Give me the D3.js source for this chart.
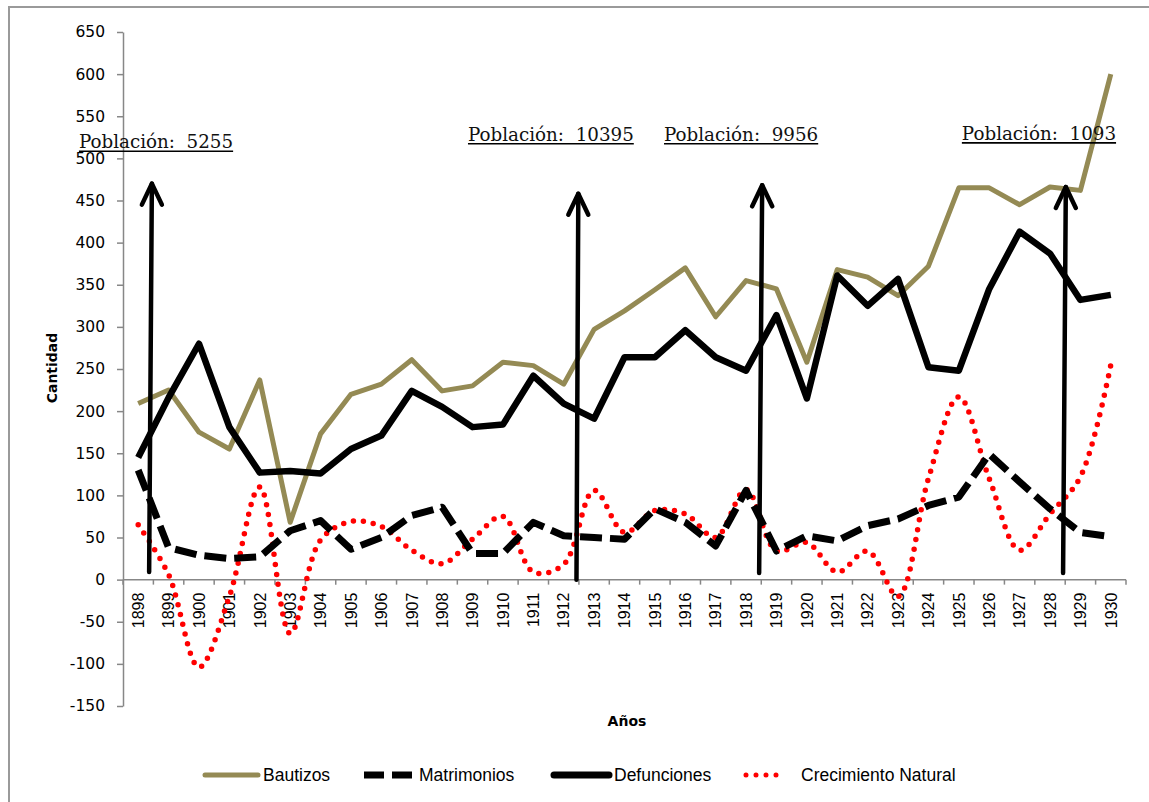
<!DOCTYPE html>
<html>
<head>
<meta charset="utf-8">
<script src="https://cdn.jsdelivr.net/npm/d3@7"></script>
<style>
	body { margin: 0; background: #fff; }
	svg { display: block; }
	.pop { white-space: pre; }
</style>
</head>
<body>
<div id="chart"></div>
<script>
const years = d3.range(1898, 1931).map(String);

const bautizos = [209, 225, 175, 155, 237, 68, 173, 220, 232, 261, 224, 230, 258, 254, 232, 297, 319, 344, 370, 312, 355, 345,
	258, 368, 359, 337, 372, 465, 465, 445, 466, 462, 600];
const matrimonios = [130, 38, 29, 25, 27, 58, 70, 36, 50, 76, 86, 31, 31, 68, 52, 50, 48, 84, 68, 40, 106, 34,
	52, 46, 64, 72, 88, 98, 149, 116, 84, 56, 51];
const defunciones = [145, 216, 280, 181, 127, 129, 126, 155, 171, 224, 205, 181, 184, 242, 209, 191, 264, 264, 296, 264, 248, 314,
	215, 361, 325, 357, 252, 248, 345, 413, 387, 332, 338];
const crecimiento = [65, 6, -104, -20, 110, -64, 47, 69, 63, 35, 19, 48, 75, 9, 18, 106, 56, 82, 78, 50, 107, 34,
	44, 9, 34, -20, 120, 217, 120, 35, 78, 122, 255];

const yTicks = d3.range(-150, 651, 50);

const seriesNames = ["Bautizos", "Matrimonios", "Defunciones", "Crecimiento Natural"];

// arrows: [category offset, value] for foot and tip
const arrowFoot = [[0.36, 9], [14.42, 0], [20.43, 8], [30.43, 8]];
const arrowTip = [[0.45, 470], [14.48, 458], [20.53, 468], [30.52, 466]];
const popLabels = ["Población:  5255", "Población:  10395", "Población:  9956", "Población:  1093"];
const popAnchor = [[-1.95, 512], [10.85, 521], [17.3, 521], [27.1, 522]];

const W = 1149, H = 802;
const mLeft = 123, mRight = 1126, mTop = 32, mBottom = 706;

const svg = d3.select('#chart').append('svg')
	.attr('width', W)
	.attr('height', H);

svg.append('rect')
	.attr('x', 9).attr('y', 7)
	.attr('width', W + 10).attr('height', H + 10)
	.attr('fill', '#fff')
	.attr('stroke', '#9a9a9a')
	.attr('stroke-width', 2);

const x = d3.scaleBand()
	.domain(years)
	.range([mLeft, mRight]);

const xi = i => x(years[0]) + x.bandwidth() / 2 + i * x.step();

const y = d3.scaleLinear()
	.domain([-150, 650])
	.range([mBottom, mTop]);

const axisColor = '#878787';

// y axis
const ya = svg.append('g')
	.attr('transform', `translate(${mLeft},0)`)
	.call(d3.axisLeft(y)
		.tickValues(yTicks)
		.tickFormat(d => String(d))
		.tickSize(6).tickPadding(12).tickSizeOuter(0));

ya.select('.domain').attr('stroke', axisColor).attr('stroke-width', 1.5);
ya.selectAll('.tick line').attr('stroke', axisColor).attr('stroke-width', 1.5);
ya.selectAll('.tick text')
	.attr('font-family', 'DejaVu Sans')
	.attr('font-size', '15.5px')
	.attr('fill', '#000');

// x axis at zero
const xa = svg.append('g')
	.attr('transform', `translate(0,${y(0)})`);

xa.append('line')
	.attr('x1', mLeft).attr('x2', mRight)
	.attr('stroke', axisColor).attr('stroke-width', 1.5);

xa.selectAll('line.tk')
	.data(d3.range(years.length + 1))
	.enter().append('line')
	.attr('class', 'tk')
	.attr('x1', i => mLeft + i * x.step())
	.attr('x2', i => mLeft + i * x.step())
	.attr('y1', 0).attr('y2', 5)
	.attr('stroke', axisColor).attr('stroke-width', 1.5);

xa.selectAll('text')
	.data(years)
	.enter().append('text')
	.attr('transform', d => `translate(${x(d) + x.bandwidth() / 2},13) rotate(-90)`)
	.attr('text-anchor', 'end')
	.attr('dy', '0.36em')
	.attr('font-family', 'Liberation Sans')
	.attr('font-size', '16px')
	.text(d => d);

// axis titles
svg.append('text')
	.attr('transform', `translate(57,368) rotate(-90)`)
	.attr('text-anchor', 'middle')
	.attr('font-family', 'DejaVu Sans')
	.attr('font-weight', 'bold')
	.attr('font-size', '14px')
	.text('Cantidad');

svg.append('text')
	.attr('x', 627).attr('y', 726)
	.attr('text-anchor', 'middle')
	.attr('font-family', 'DejaVu Sans')
	.attr('font-weight', 'bold')
	.attr('font-size', '14px')
	.text('Años');

const styles = [
	{ stroke: '#948a54', width: 5, dash: null, cap: 'butt' },
	{ stroke: '#000', width: 7, dash: '22,8', cap: 'butt' },
	{ stroke: '#000', width: 6.5, dash: null, cap: 'butt' },
	{ stroke: '#ff0000', width: 5.5, dash: '0,10', cap: 'round' }
];

const series = [bautizos, matrimonios, defunciones, crecimiento];

const straight = d3.line()
	.x((d, i) => xi(i))
	.y(d => y(d));

const smooth = d3.line()
	.x((d, i) => xi(i))
	.y(d => y(d))
	.curve(d3.curveCatmullRom.alpha(0.5));

const plot = svg.append('g');

// draw order: dotted red first, then others on top
[3, 0, 2, 1].forEach(k => {
	plot.append('path')
		.datum(series[k])
		.attr('fill', 'none')
		.attr('stroke', styles[k].stroke)
		.attr('stroke-width', styles[k].width)
		.attr('stroke-dasharray', styles[k].dash)
		.attr('stroke-linecap', styles[k].cap)
		.attr('stroke-linejoin', 'round')
		.attr('d', k === 3 ? smooth : straight);
});

// arrows
const ag = svg.append('g')
	.attr('stroke', '#000')
	.attr('stroke-width', 4.5)
	.attr('stroke-linecap', 'round')
	.attr('stroke-linejoin', 'round')
	.attr('fill', 'none');

arrowTip.forEach((t, i) => {
	const f = arrowFoot[i];
	const tx = xi(t[0]), ty = y(t[1]);
	ag.append('line')
		.attr('x1', xi(f[0])).attr('y1', y(f[1]))
		.attr('x2', tx).attr('y2', ty);
	ag.append('path')
		.attr('d', `M${tx - 10},${ty + 21}L${tx},${ty}L${tx + 10},${ty + 21}`);
});

// population labels
popLabels.forEach((s, i) => {
	const px = xi(popAnchor[i][0]), py = y(popAnchor[i][1]);
	const t = svg.append('text')
		.attr('class', 'pop')
		.attr('x', px).attr('y', py)
		.attr('font-family', 'DejaVu Serif')
		.attr('font-size', '18.3px')
		.attr('fill', '#111')
		.text(s);
	const w = t.node().getComputedTextLength();
	svg.append('line')
		.attr('x1', px).attr('x2', px + w)
		.attr('y1', py + 3).attr('y2', py + 3)
		.attr('stroke', '#000')
		.attr('stroke-width', 1.6);
});

// legend
const lg = svg.append('g').attr('transform', 'translate(0,775)');
const legendAt = [205, 364, 554, 744];
const legendLen = [53, 50, 55, 42];
seriesNames.forEach((name, k) => {
	const st = styles[k];
	const lx = legendAt[k];
	lg.append('line')
		.attr('x1', k === 3 ? lx + 2 : lx).attr('x2', lx + legendLen[k])
		.attr('stroke', st.stroke)
		.attr('stroke-width', k === 3 ? 5 : (k === 0 ? 5 : 7))
		.attr('stroke-dasharray', k === 1 ? '20,8' : st.dash)
		.attr('stroke-linecap', k === 1 ? 'butt' : 'round');
	lg.append('text')
		.attr('x', lx + legendLen[k] + (k === 3 ? 15 : 5)).attr('y', 0)
		.attr('dy', '0.35em')
		.attr('font-family', 'Liberation Sans')
		.attr('font-size', '17.5px')
		.text(name);
});
</script>
</body>
</html>
